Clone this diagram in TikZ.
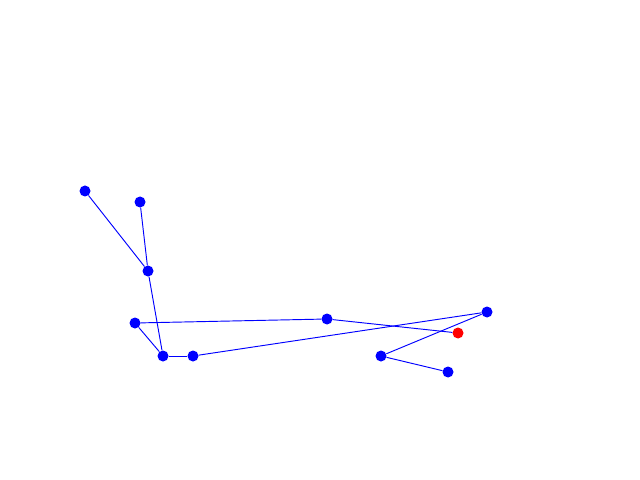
\documentclass[tikz,border=0pt]{standalone}
\usepackage{xcolor}
\usepackage{tikz}
\usetikzlibrary{positioning}

\begin{document}
\begin{tikzpicture}[x=.03cm,y=-.03cm,
  dot/.style={circle,fill=blue,inner sep=0pt,minimum size=.33cm},
  reddot/.style={dot,fill=red},
  link/.style={blue,line width=.8pt}]
\useasboundingbox (0,0) rectangle (640,480);
\node[dot] (a) at (85,191){};
\node[dot] (b) at (140,202){};
\node[dot] (c) at (148,271){};
\node[dot] (d) at (135,323){};
\node[dot] (e) at (163,356){};
\node[dot] (f) at (193,356){};
\node[dot] (g) at (327,319){};
\node[reddot] (h) at (458,333){};
\node[dot] (i) at (487,312){};
\node[dot] (j) at (381,356){};
\node[dot] (k) at (448,372){};
\foreach \p/\q in {a/c,b/c,c/e,d/e,e/f,f/i,d/g,g/h,i/j,j/k}{\draw[link] (\p)--(\q);}
\end{tikzpicture}
\end{document}
